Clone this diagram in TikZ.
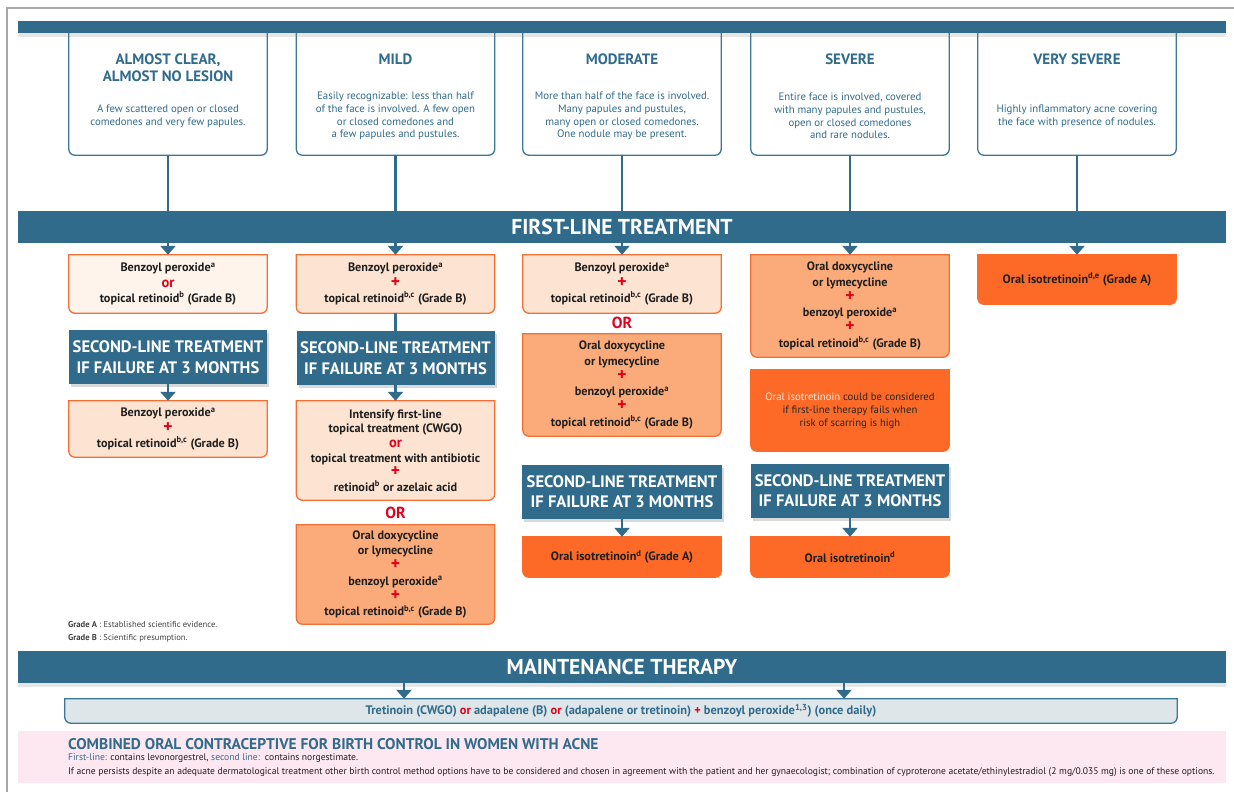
\documentclass[tikz,border=0pt]{standalone}
\usepackage{fontspec}
\setmainfont{PT Sans}
\usepackage{tikz}
\usetikzlibrary{arrows.meta,shadows,backgrounds}

\definecolor{acneblue}{HTML}{306B8C}
\definecolor{boxline}{HTML}{3C7797}
\definecolor{acnered}{HTML}{E2001A}
\definecolor{orangeline}{HTML}{F37035}
\definecolor{paleorange}{HTML}{FEF4EC}
\definecolor{peach}{HTML}{FDE4D2}
\definecolor{salmon}{HTML}{FBAB7A}
\definecolor{deeporange}{HTML}{FD6A28}
\definecolor{maintfill}{HTML}{DEE6EA}
\definecolor{pinkfill}{HTML}{FDE8F1}
\definecolor{framegrey}{HTML}{A8A8A8}
\definecolor{inktext}{HTML}{1E1E1E}

\newcommand{\plusmark}{{\color{acnered}\fontsize{17.5}{14}\selectfont\bfseries +}}
\newcommand{\ormark}{{\color{acnered}\fontsize{14.5}{14}\selectfont\bfseries or}}

\begin{document}
\begin{tikzpicture}[x=1pt, y=-1pt,
	sevbox/.style={minimum width=198pt, minimum height=128pt, inner sep=0pt},
	sevtitle/.style={anchor=north, inner sep=0pt, align=center, text=acneblue, font=\fontsize{15}{16.5}\selectfont\bfseries},
	sevtext/.style={inner sep=0pt, align=center, text=acneblue, font=\fontsize{10.8}{12.8}\selectfont},
	txbox/.style={minimum width=198pt, inner sep=0pt, align=center, text=inktext, font=\fontsize{12.2}{15.3}\selectfont\bfseries},
	secline/.style={fill=acneblue, text=white, minimum width=198pt, minimum height=54pt, inner sep=0pt, align=center,
		font=\fontsize{16.6}{20.5}\selectfont\bfseries, drop shadow={shadow xshift=2pt, shadow yshift=-3pt, opacity=0.3}},
	bar/.style={fill=acneblue, text=white, minimum width=1208pt, inner sep=0pt, font=\fontsize{21.5}{22}\selectfont\bfseries},
	orlabel/.style={inner sep=0pt, text=acnered, font=\fontsize{16}{16}\selectfont\bfseries},
	link/.style={draw=acneblue, line width=2.4pt},
	arr/.style={link, -{Triangle[width=15pt,length=9pt]}}]
	\useasboundingbox (0,0) rectangle (1234,792);
	\draw[framegrey, line width=2pt] (7,792) -- (7,8) -- (1234,8);

	% severity grades
	\node[sevbox] (sev1) at (168,91) {};
	\node[sevbox] (sev2) at (395.5,91) {};
	\node[sevbox] (sev3) at (622,91) {};
	\node[sevbox] (sev4) at (850,91) {};
	\node[sevbox] (sev5) at (1077,91) {};
	\node[sevtitle] (sevt1) at (168,54) {ALMOST CLEAR,\\ALMOST NO LESION};
	\node[sevtitle] (sevt2) at (395.5,54) {MILD};
	\node[sevtitle] (sevt3) at (622,54) {MODERATE};
	\node[sevtitle] (sevt4) at (850,54) {SEVERE};
	\node[sevtitle] (sevt5) at (1077,54) {VERY SEVERE};
	\node[sevtext] (sevd1) at (168,116) {A few scattered open or closed\\comedones and very few papules.};
	\node[sevtext] (sevd2) at (395.5,116) {Easily recognizable: less than half\\of the face is involved. A few open\\or closed comedones and\\a few papules and pustules.};
	\node[sevtext] (sevd3) at (622,116) {More than half of the face is involved.\\Many papules and pustules,\\many open or closed comedones.\\One nodule may be present.};
	\node[sevtext] (sevd4) at (850,116) {Entire face is involved, covered\\with many papules and pustules,\\open or closed comedones\\and rare nodules.};
	\node[sevtext] (sevd5) at (1077,116) {Highly inflammatory acne covering\\the face with presence of nodules.};
	\node[bar, minimum height=12pt, drop shadow={shadow xshift=0pt, shadow yshift=-4pt, opacity=0.2}] (topbar) at (622,27) {};

	\node[bar, minimum height=32pt] (first) at (622,227) {FIRST-LINE TREATMENT};

	% first column
	\node[txbox, minimum height=58pt] (t11) at (168,284) {Benzoyl peroxide\textsuperscript{a}\\\ormark\\topical retinoid\textsuperscript{b} (Grade B)};
	\node[secline] (s1) at (168,357) {SECOND-LINE TREATMENT\\IF FAILURE AT 3 MONTHS};
	\node[txbox, minimum height=56pt] (t12) at (168,429) {Benzoyl peroxide\textsuperscript{a}\\\plusmark\\topical retinoid\textsuperscript{b,c} (Grade B)};

	% second column
	\node[txbox, minimum height=58pt] (t21) at (395.5,284) {Benzoyl peroxide\textsuperscript{a}\\\plusmark\\topical retinoid\textsuperscript{b,c} (Grade B)};
	\node[secline] (s2) at (395.5,358) {SECOND-LINE TREATMENT\\IF FAILURE AT 3 MONTHS};
	\node[txbox, minimum height=99pt, font=\fontsize{12.2}{14.6}\selectfont\bfseries] (t22) at (395.5,450.5) {Intensify first-line\\topical treatment (CWGO)\\\ormark\\topical treatment with antibiotic\\\plusmark\\retinoid\textsuperscript{b} or azelaic acid};
	\node[orlabel] (or2) at (395.5,513) {OR};
	\node[txbox, minimum height=99pt] (t23) at (395.5,574.5) {Oral doxycycline\\or lymecycline\\\plusmark\\benzoyl peroxide\textsuperscript{a}\\\plusmark\\topical retinoid\textsuperscript{b,c} (Grade B)};

	% third column
	\node[txbox, minimum height=58pt] (t31) at (622,284) {Benzoyl peroxide\textsuperscript{a}\\\plusmark\\topical retinoid\textsuperscript{b,c} (Grade B)};
	\node[orlabel] (or3) at (622,323) {OR};
	\node[txbox, minimum height=102pt] (t32) at (622,385) {Oral doxycycline\\or lymecycline\\\plusmark\\benzoyl peroxide\textsuperscript{a}\\\plusmark\\topical retinoid\textsuperscript{b,c} (Grade B)};
	\node[secline, minimum width=200pt] (s3) at (622,491.5) {SECOND-LINE TREATMENT\\IF FAILURE AT 3 MONTHS};
	\node[txbox, minimum height=40pt] (t33) at (622,557) {Oral isotretinoin\textsuperscript{d} (Grade A)};

	% fourth column
	\node[txbox, minimum height=102pt] (t41) at (850,306) {Oral doxycycline\\or lymecycline\\\plusmark\\benzoyl peroxide\textsuperscript{a}\\\plusmark\\topical retinoid\textsuperscript{b,c} (Grade B)};
	\node[txbox, minimum height=81pt, font=\fontsize{10.7}{13}\selectfont, text=black!85] (t42) at (850,410.5) {\textcolor[HTML]{FFE6D6}{Oral isotretinoin} could be considered\\if first-line therapy fails when\\risk of scarring is high};
	\node[secline] (s4) at (850,490.5) {SECOND-LINE TREATMENT\\IF FAILURE AT 3 MONTHS};
	\node[txbox, minimum height=40pt] (t43) at (850,557) {Oral isotretinoin\textsuperscript{d}};

	% fifth column
	\node[txbox, minimum height=49pt] (t51) at (1077,279.5) {Oral isotretinoin\textsuperscript{d,e} (Grade A)};

	\node[anchor=west, inner sep=0pt, font=\fontsize{8.6}{9}\selectfont, text=black!75] (gradea) at (68,624) {\textbf{Grade A} : Established scientific evidence.};
	\node[anchor=west, inner sep=0pt, font=\fontsize{8.6}{9}\selectfont, text=black!75] (gradeb) at (68,638) {\textbf{Grade B} : Scientific presumption.};

	% maintenance
	\node[bar, minimum height=32pt, drop shadow={shadow xshift=0pt, shadow yshift=-4pt, opacity=0.2}] (maintbar) at (622,667) {MAINTENANCE THERAPY};
	\node[minimum width=1112pt, minimum height=24pt, inner sep=0pt, text=acneblue, font=\fontsize{12.4}{13}\selectfont\bfseries] (maint) at (621,711)
		{Tretinoin (CWGO) \textcolor{acnered}{or} adapalene (B) \textcolor{acnered}{or} (adapalene or tretinoin) \textcolor{acnered}{+} benzoyl peroxide\textsuperscript{1,3}) (once daily)};
	\coordinate (mleft) at (404,0);
	\coordinate (mright) at (844,0);

	\node[fill=pinkfill, minimum width=1208pt, minimum height=52pt, inner sep=0pt] (coc) at (622,757) {};
	\node[anchor=west, inner sep=0pt, text=acneblue, font=\fontsize{15.5}{16}\selectfont\bfseries] (coctitle) at (68,744) {COMBINED ORAL CONTRACEPTIVE FOR BIRTH CONTROL IN WOMEN WITH ACNE};
	\node[anchor=west, inner sep=0pt, text=inktext, font=\fontsize{9.6}{10}\selectfont] (cocfirst) at (68,758) {\textcolor{acneblue}{First-line:} contains levonorgestrel, \textcolor{acneblue}{second line:}\ \ contains norgestimate.};
	\node[anchor=west, inner sep=0pt, text=inktext, font=\fontsize{9.6}{10}\selectfont] (cocnote) at (68,772) {If acne persists despite an adequate dermatological treatment other birth control method options have to be considered and chosen in agreement with the patient and her gynaecologist; combination of cyproterone acetate/ethinylestradiol (2 mg/0.035 mg) is one of these options.};

	% connectors
	\foreach \n in {sev1,sev2,sev3,sev4,sev5}
		\draw[link] (\n.south) -- (\n.south |- first.north);
	\foreach \n in {t11,t21,t31,t41,t51}
		\draw[arr] (first.south -| \n.north) -- (\n.north);
	\draw[link] (t21.south) -- (s2.north);
	\draw[arr] (s1.south) -- (t12.north);
	\draw[arr] (s2.south) -- (t22.north);
	\draw[arr] (s3.south) -- (t33.north);
	\draw[arr] (s4.south) -- (t43.north);
	\draw[arr] (maintbar.south -| mleft) -- (maint.north -| mleft);
	\draw[arr] (maintbar.south -| mright) -- (maint.north -| mright);

	% box outlines, rounded at the bottom only
	\begin{scope}[on background layer]
		\foreach \n/\f/\d in {sev1/white/boxline, sev2/white/boxline, sev3/white/boxline, sev4/white/boxline, sev5/white/boxline,
				t11/paleorange/orangeline, t12/peach/orangeline, t21/peach/orangeline, t22/peach/orangeline, t23/salmon/orangeline,
				t31/peach/orangeline, t32/salmon/orangeline, t33/deeporange/deeporange, t41/salmon/orangeline, t42/deeporange/deeporange,
				t43/deeporange/deeporange, t51/deeporange/deeporange, maint/maintfill/boxline}
			\filldraw[fill=\f, draw=\d, line width=1.3pt] (\n.north west) -- ([yshift=6pt]\n.south west)
				arc[start angle=180, end angle=270, radius=6pt] -- ([xshift=-6pt]\n.south east)
				arc[start angle=270, end angle=360, radius=6pt] -- (\n.north east) -- cycle;
	\end{scope}
\end{tikzpicture}
\end{document}
